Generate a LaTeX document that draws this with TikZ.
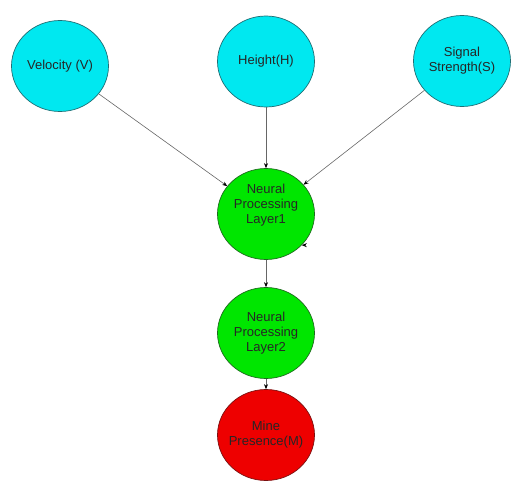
\documentclass[tikz,border=0pt]{standalone}
\usepackage{fontspec}
\setmainfont{Liberation Sans}
\usepackage{xcolor}
\usetikzlibrary{arrows.meta,calc,positioning,shapes.geometric}
\definecolor{inputfill}{HTML}{00E8F0}
\definecolor{inputline}{HTML}{1F6E74}
\definecolor{layerfill}{HTML}{00E600}
\definecolor{layerline}{HTML}{1E6A1E}
\definecolor{outfill}{HTML}{EE0000}
\definecolor{outline}{HTML}{7A1010}
\tikzset{%
	var/.style      = {ellipse, draw, line width=0.7pt, minimum width=97pt, minimum height=91pt, inner ysep=0pt, inner xsep=-8pt, align=center, font=\fontsize{13}{15}\selectfont, text=black!85}, % Node
	input/.style    = {var, fill=inputfill, draw=inputline}, % Input
	layer/.style    = {var, fill=layerfill, draw=layerline}, % Hidden
	output/.style   = {var, fill=outfill, draw=outline}, % Output
	arrow/.style    = {draw=black!60, line width=0.6pt, -{Stealth[length=5pt,width=4pt,black]}},
}
\begin{document}
\begin{tikzpicture}[x=1pt,y=1pt]
	\useasboundingbox (0,0) rectangle (520,-493);
	\node[input] (hgt) at (266,-61.5) {Height(H)};
	\node[input] (vel) at (60,-66) {Velocity (V)};
	\node[input] (sig) at (462,-61) {Signal\\Strength(S)};
	\node[layer,below of=hgt,node distance=152.5pt] (npl1) {Neural\\Processing\\Layer1\\[6pt]};
	\node[layer,below of=npl1,node distance=119pt] (npl2) {Neural\\Processing\\Layer2};
	\node[output,below of=npl2,node distance=102pt] (mine) {Mine\\Presence(M)};
	\coordinate (stub) at ($(npl1.-41)+(2,0)$);
	\draw[arrow] (vel) -- (npl1);
	\draw[arrow] (hgt) -- (npl1);
	\draw[arrow] (sig) -- (npl1);
	\draw[arrow] (npl1) -- (npl2);
	\draw[arrow] (npl2) -- (mine);
	\draw[arrow] (stub) -- (npl1.-41);
\end{tikzpicture}
\end{document}
